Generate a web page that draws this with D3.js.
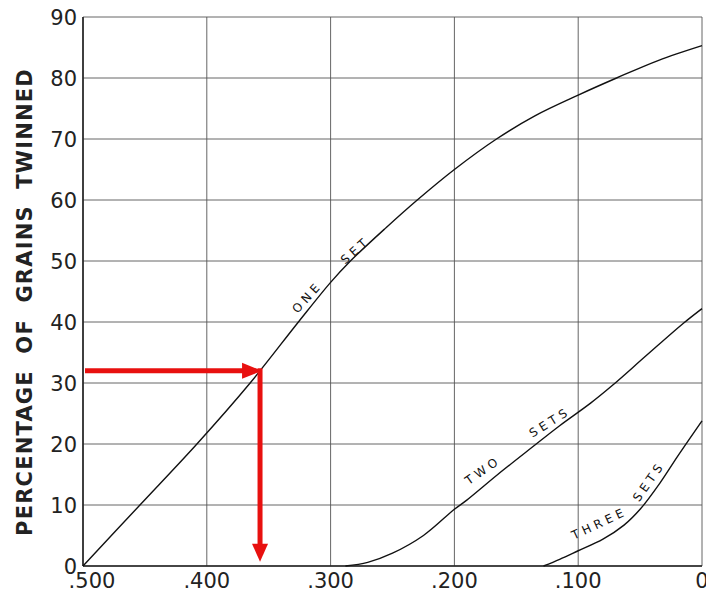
<!DOCTYPE html>
<html>
<head>
<meta charset="utf-8">
<script src="https://cdn.jsdelivr.net/npm/d3@7"></script>
<style>
  body { margin: 0; background: #fff; }
  svg { display: block; }
  text { font-family: "DejaVu Sans", "Liberation Sans", sans-serif; fill: #222; }
</style>
</head>
<body>
<svg id="chart" width="706" height="591"></svg>
<script>
// x = value read on the bottom axis (runs from .500 down to 0), y = percentage
var xTicks = [0.5, 0.4, 0.3, 0.2, 0.1, 0];
var xTickLabels = [".500", ".400", ".300", ".200", ".100", "0"];
var yTicks = [0, 10, 20, 30, 40, 50, 60, 70, 80, 90];

var oneSetX = [0.5, 0.454, 0.408, 0.365, 0.326, 0.3, 0.284, 0.255, 0.23, 0.2, 0.166, 0.135, 0.1, 0.069, 0.035, 0];
var oneSetY = [0, 10, 20, 30, 40, 46.5, 50, 55.5, 60, 65, 70, 73.8, 77.2, 80, 82.9, 85.3];

var twoSetsX = [0.288, 0.27, 0.25, 0.225, 0.2, 0.19, 0.165, 0.137, 0.115, 0.09, 0.073, 0.045, 0.015, 0];
var twoSetsY = [0, 0.6, 2.1, 5, 9.3, 10.8, 15, 19.5, 23, 26.7, 29.5, 34.5, 39.8, 42.2];

var threeSetsX = [0.128, 0.115, 0.1, 0.08, 0.063, 0.05, 0.034, 0.02, 0];
var threeSetsY = [0, 1.1, 2.5, 4.4, 6.7, 9.3, 13.6, 17.9, 23.8];

// red reading arrow: from the y axis at 32 % across to the curve, then down
var markX = 0.357;
var markY = 32;

var svg = d3.select("#chart");
var pLeft = 83, pRight = 702, pTop = 17, pBottom = 566;

var x = d3.scaleLinear().domain([0.5, 0]).range([pLeft, pRight]);
var y = d3.scaleLinear().domain([0, 90]).range([pBottom, pTop]);

// grid
svg.append("g")
  .selectAll("line")
  .data(xTicks)
  .join("line")
  .attr("x1", d => x(d)).attr("x2", d => x(d))
  .attr("y1", pTop).attr("y2", pBottom)
  .style("stroke", "#555").style("stroke-width", 0.9);

svg.append("g")
  .selectAll("line")
  .data(yTicks)
  .join("line")
  .attr("x1", pLeft).attr("x2", pRight)
  .attr("y1", d => y(d)).attr("y2", d => y(d))
  .style("stroke", "#555").style("stroke-width", 0.9);

// axis lines
svg.append("line")
  .attr("x1", pLeft).attr("x2", pLeft).attr("y1", pTop).attr("y2", pBottom)
  .style("stroke", "#222").style("stroke-width", 1.6);
svg.append("line")
  .attr("x1", pLeft).attr("x2", pRight).attr("y1", pBottom).attr("y2", pBottom)
  .style("stroke", "#222").style("stroke-width", 1.6);

// tick labels
svg.append("g")
  .selectAll("text")
  .data(yTicks)
  .join("text")
  .attr("x", pLeft - 6)
  .attr("y", d => y(d) + 7.5)
  .attr("text-anchor", "end")
  .style("font-size", "21px")
  .text(d => d);

svg.append("g")
  .selectAll("text")
  .data(xTicks)
  .join("text")
  .attr("x", (d, i) => x(d) + (i == 0 ? 9 : 0))
  .attr("y", 588)
  .attr("text-anchor", "middle")
  .style("font-size", "21px")
  .text((d, i) => xTickLabels[i]);

// y title
svg.append("text")
  .attr("transform", "translate(32," + 302 + ") rotate(-90)")
  .attr("text-anchor", "middle")
  .style("font-size", "21px")
  .style("font-weight", "bold")
  .style("letter-spacing", "1.2px")
  .style("word-spacing", "8px")
  .text("PERCENTAGE OF GRAINS TWINNED");

// curves
var line = d3.line()
  .x(d => x(d[0]))
  .y(d => y(d[1]))
  .curve(d3.curveCatmullRom);

function drawCurve(xs, ys) {
  var pts = xs.map((v, i) => [v, ys[i]]);
  svg.append("path")
    .attr("d", line(pts))
    .style("fill", "none")
    .style("stroke", "#111")
    .style("stroke-width", 1.4);
}
drawCurve(oneSetX, oneSetY);
drawCurve(twoSetsX, twoSetsY);
drawCurve(threeSetsX, threeSetsY);

// curve labels
function label(txt, xv, yv, angle) {
  svg.append("text")
    .attr("transform", "translate(" + x(xv) + "," + y(yv) + ") rotate(" + angle + ")")
    .attr("text-anchor", "middle")
    .attr("dy", "0.35em")
    .style("font-size", "12px")
    .style("letter-spacing", "4px")
    .style("fill", "#111")
    .text(txt);
}
label("ONE", 0.319, 44.1, -48);
label("SET", 0.280, 51.8, -42);
label("TWO", 0.177, 15.7, -35);
label("SETS", 0.123, 23.6, -32);
label("THREE", 0.083, 7.0, -25);
label("SETS", 0.043, 13.9, -55);

// red arrow
var red = "#e8100f";
var ax = x(markX), ay = y(markY);
var tipY = y(0.7);
svg.append("line")
  .attr("x1", pLeft + 2).attr("x2", ax - 14)
  .attr("y1", ay).attr("y2", ay)
  .style("stroke", red).style("stroke-width", 5);
svg.append("path")
  .attr("d", "M" + (ax - 18) + "," + (ay - 8) + "L" + (ax + 2) + "," + ay + "L" + (ax - 18) + "," + (ay + 8) + "Z")
  .style("fill", red);
svg.append("line")
  .attr("x1", ax).attr("x2", ax)
  .attr("y1", ay - 2.5).attr("y2", tipY - 14)
  .style("stroke", red).style("stroke-width", 5);
svg.append("path")
  .attr("d", "M" + (ax - 8) + "," + (tipY - 18) + "L" + ax + "," + tipY + "L" + (ax + 8) + "," + (tipY - 18) + "Z")
  .style("fill", red);
</script>
</body>
</html>
